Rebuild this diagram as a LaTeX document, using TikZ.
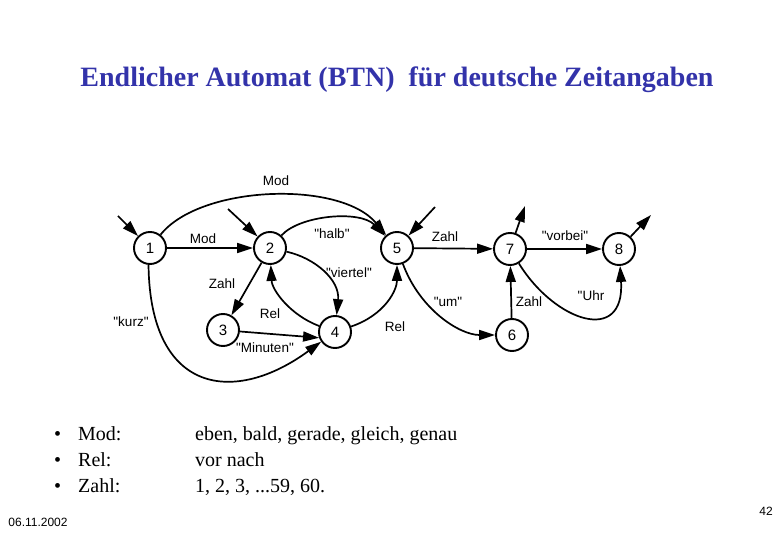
\documentclass[tikz,border=0pt]{standalone}
\usepackage{fontspec}
\setmainfont{Liberation Serif}
\setsansfont[Ligatures=TeXOff]{Liberation Sans}
\usetikzlibrary{arrows.meta}
\definecolor{titleblue}{RGB}{51,51,170}

\begin{document}
\begin{tikzpicture}[x=1pt,y=-1pt,
    state/.style={circle,draw,line width=1.9pt,minimum size=32pt,inner sep=0pt,
        font=\sffamily\fontsize{15}{15}\selectfont},
    trans/.style={line width=1.7pt,-{Triangle[length=16pt,width=10pt]}},
    lab/.style={font=\sffamily\fontsize{13.5}{13.5}\selectfont,inner sep=1pt},
    item/.style={font=\fontsize{20}{20}\selectfont,anchor=base west,inner sep=0pt}]
        \useasboundingbox (0,0) rectangle (780,540);

        % Title
        \node[titleblue,font=\bfseries\fontsize{28}{28}\selectfont] (title) at (397,80)
            {Endlicher Automat (BTN)\ \ für deutsche Zeitangaben};

        % Draw states
        \foreach \name/\x/\y in {1/150/248, 2/270/248, 3/223/330, 4/335/332,
                                 5/397/248, 6/512/335, 7/510/249, 8/619/249}
            \node[state] (s\name) at (\x,\y) {\name};

        % Free ends of start and final arrows
        \coordinate (in1) at (118,216);
        \coordinate (in2) at (228,209);
        \coordinate (in5) at (435,207);
        \coordinate (out7) at (525,206);
        \coordinate (out8) at (651,215);

        \draw[trans] (in1) -- (s1);
        \draw[trans] (in2) -- (s2);
        \draw[trans] (in5) -- (s5);
        \draw[trans] (s7) -- (out7);
        \draw[trans] (s8) -- (out8);

        % Transitions
        \draw[trans] (s1) -- (s2);
        \draw[trans] (s1) .. controls (200,185) and (340,180) .. (s5);
        \draw[trans] (s2) .. controls (300,215) and (360,210) .. (s5);
        \draw[trans] (s2) .. controls (315,258) and (340,280) .. (s4);
        \draw[trans] (s4) .. controls (290,315) and (272,290) .. (s2);
        \draw[trans] (s2) -- (s3);
        \draw[trans] (s3.355) -- (s4.200);
        \draw[trans] (s1.265) .. controls (150,395) and (235,405) .. (s4.215);
        \draw[trans] (s4) .. controls (385,315) and (397,290) .. (s5);
        \draw[trans] (s5) .. controls (420,310) and (460,335) .. (s6);
        \draw[trans] (s5) -- (s7);
        \draw[trans] (s6) -- (s7);
        \draw[trans] (s7) -- (s8);
        \draw[trans] (s7) .. controls (555,322) and (625,345) .. (s8);

        % Transition labels
        \node[lab] (lmodtop) at (276,181) {Mod};
        \node[lab] (lmod) at (203,239) {Mod};
        \node[lab] (lhalb) at (332,234) {"halb"};
        \node[lab] (lviertel) at (349,273) {"viertel"};
        \node[lab] (lzahla) at (222,284) {Zahl};
        \node[lab] (lkurz) at (131,322) {"kurz"};
        \node[lab] (lrela) at (270,314) {Rel};
        \node[lab] (lminuten) at (265,348) {"Minuten"};
        \node[lab] (lrelb) at (395,327) {Rel};
        \node[lab] (lum) at (448,302) {"um"};
        \node[lab] (lzahlb) at (445,237) {Zahl};
        \node[lab] (lzahlc) at (529,302) {Zahl};
        \node[lab] (lvorbei) at (565,236) {"vorbei"};
        \node[lab] (luhr) at (591,296) {"Uhr};

        % Legend
        \foreach \row/\cat/\vals in {0/Mod:/{eben, bald, gerade, gleich, genau},
                                     1/Rel:/{vor nach},
                                     2/Zahl:/{1, 2, 3, ...59, 60.}}
        {
            \node[item] (bul\row) at (54,440+26*\row) {•};
            \node[item] (cat\row) at (78,440+26*\row) {\cat};
            \node[item] (val\row) at (195,440+26*\row) {\vals};
        }

        % Footer
        \node[font=\sffamily\fontsize{12}{12}\selectfont] (date) at (38,522) {06.11.2002};
        \node[font=\sffamily\fontsize{12}{12}\selectfont] (page) at (766,511) {42};
    \end{tikzpicture}
\end{document}
